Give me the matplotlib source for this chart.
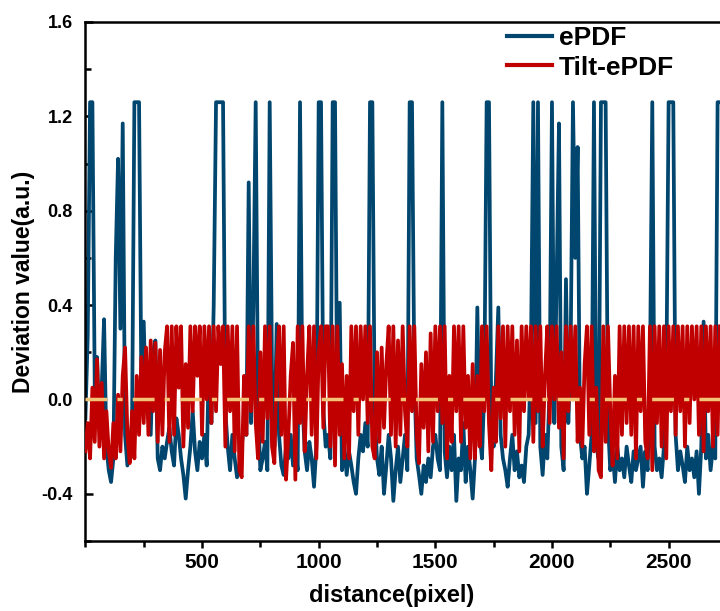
import numpy as np
import matplotlib
matplotlib.use("Agg")
import matplotlib.pyplot as plt
from matplotlib.ticker import MultipleLocator, FixedLocator, FormatStrFormatter

# sampling step of the distance axis (pixels)
step = 10

epdf = [
    # 0-340
    -0.08, 0.27, 1.26, 1.26, 0.05, 0.18, -0.12, 0.05, 0.34, -0.20,
    -0.30, -0.35, -0.25, 0.60, 1.02, 0.30, 1.17, -0.15, -0.28, -0.20,
    -0.10, 1.26, 1.26, 1.26, 0.05, 0.33, -0.05, 0.10, -0.15, 0.20,
    0.25, -0.25, -0.30, -0.20, -0.25,
    # 350-680
    -0.18, -0.12, -0.22, -0.28, -0.08, -0.15, -0.25, -0.32, -0.42, -0.30,
    -0.20, -0.05, -0.22, -0.30, -0.18, -0.25, -0.15, -0.28, 0.20, -0.10,
    0.40, 1.26, 1.26, 1.26, 1.26, -0.05, -0.20, -0.30, -0.15, -0.25,
    -0.33, -0.28, -0.20, -0.10,
    # 690-1030
    -0.15, 0.92, -0.10, 0.40, 1.26, -0.05, -0.30, -0.25, -0.18, -0.30,
    1.26, 0.10, -0.20, 0.32, -0.15, -0.28, -0.32, -0.20, -0.25, -0.15,
    -0.28, -0.20, -0.30, 1.26, 0.00, -0.22, -0.30, -0.18, -0.25, -0.37,
    -0.20, 1.26, 1.26, -0.05, -0.20,
    # 1040-1370
    -0.15, -0.25, 1.26, 1.26, -0.10, 0.41, -0.30, -0.20, -0.32, -0.22,
    -0.28, -0.35, -0.40, -0.25, -0.15, -0.22, -0.10, -0.20, 1.26, 1.26,
    -0.05, -0.25, -0.32, -0.20, -0.40, -0.28, -0.15, -0.25, -0.43, -0.30,
    -0.20, -0.35, -0.25, -0.15,
    # 1380-1710
    -0.30, 1.26, 1.26, 0.10, -0.25, -0.32, -0.40, -0.28, -0.35, -0.25,
    -0.33, -0.20, -0.15, -0.25, -0.30, 1.26, -0.22, -0.33, -0.20, -0.30,
    -0.15, -0.43, -0.25, -0.30, -0.10, -0.35, -0.20, -0.30, -0.42, -0.25,
    0.39, -0.15, -0.25, 0.05,
    # 1720-2050
    1.26, 1.26, -0.10, -0.20, 0.10, 0.39, -0.15, -0.25, -0.30, -0.37,
    -0.25, -0.15, -0.30, -0.22, -0.33, -0.28, -0.35, -0.20, -0.15, 0.20,
    1.26, -0.10, 1.26, -0.20, -0.32, -0.15, -0.25, 0.05, 1.26, -0.10,
    0.50, 1.17, -0.20, -0.30,
    # 2060-2400
    0.51, -0.10, 0.20, 1.26, 0.60, 1.07, -0.15, -0.25, -0.20, -0.40,
    -0.28, -0.15, 1.26, -0.20, -0.25, 1.26, 1.26, 1.26, -0.10, -0.30,
    -0.22, -0.35, -0.20, -0.30, -0.25, -0.33, -0.20, -0.28, -0.35, -0.22,
    -0.30, -0.25, -0.20, -0.37, -0.22,
    # 2410-2720
    -0.30, 0.10, 1.26, -0.20, -0.30, -0.25, -0.33, -0.20, 0.05, 1.26,
    1.26, 1.26, -0.15, -0.30, -0.22, -0.28, -0.35, -0.20, -0.30, -0.25,
    -0.33, -0.22, -0.40, -0.20, 0.33, -0.25, -0.15, -0.30, -0.20, -0.25,
    1.26, 1.26,
]

tilt_epdf = [
    # 0-340
    -0.22, -0.10, -0.25, 0.05, -0.18, 0.17, -0.20, 0.07, -0.25, -0.05,
    -0.22, -0.29, -0.10, -0.25, 0.02, -0.22, 0.10, 0.22, -0.15, -0.27,
    -0.05, -0.25, 0.10, -0.15, 0.18, -0.10, 0.22, -0.15, 0.25, -0.05,
    0.24, -0.18, 0.21, -0.15, 0.20,
    # 350-680
    0.31, -0.18, 0.31, -0.15, 0.31, 0.05, 0.31, -0.20, 0.15, -0.12,
    0.31, -0.05, 0.31, 0.10, 0.31, -0.15, 0.31, 0.00, 0.31, -0.10,
    0.31, -0.05, 0.31, 0.15, 0.31, -0.20, 0.31, -0.05, 0.31, -0.22,
    0.31, -0.30, -0.33, 0.10,
    # 690-1030
    -0.15, 0.31, -0.05, 0.31, -0.10, -0.25, 0.20, -0.18, 0.31, -0.08,
    0.31, -0.20, -0.27, 0.15, 0.31, -0.15, 0.31, -0.34, -0.15, 0.10,
    0.24, -0.34, 0.31, -0.10, 0.31, -0.22, 0.10, 0.31, -0.15, 0.31,
    -0.25, 0.20, 0.31, -0.12, 0.31,
    # 1040-1370
    0.31, -0.20, 0.31, -0.28, 0.31, -0.15, 0.15, -0.25, 0.10, -0.25,
    0.31, -0.05, 0.31, -0.15, 0.31, 0.00, 0.31, -0.10, 0.31, -0.20,
    -0.25, 0.20, -0.18, 0.22, -0.12, 0.15, 0.31, -0.15, 0.31, -0.20,
    0.25, -0.15, 0.31, -0.05,
    # 1380-1710
    -0.20, 0.31, -0.05, 0.31, -0.15, -0.27, 0.15, -0.12, 0.20, -0.22,
    0.28, -0.18, 0.31, -0.05, 0.31, -0.10, 0.31, -0.25, 0.10, -0.18,
    0.31, -0.05, 0.31, -0.18, 0.31, -0.12, 0.10, -0.25, 0.15, -0.25,
    0.10, -0.20, 0.31, -0.05,
    # 1720-2050
    0.31, -0.10, -0.30, 0.05, -0.18, 0.31, -0.08, 0.31, -0.20, 0.31,
    -0.05, 0.31, -0.15, 0.25, -0.22, 0.31, -0.05, 0.31, 0.00, 0.31,
    -0.18, 0.31, -0.05, 0.31, -0.20, 0.10, 0.31, -0.10, 0.31, 0.00,
    0.31, -0.12, 0.20, -0.25,
    # 2060-2400
    0.31, -0.05, 0.31, 0.00, 0.31, -0.18, 0.05, -0.20, 0.15, 0.31,
    -0.15, 0.31, -0.22, 0.05, -0.30, -0.33, 0.31, -0.18, 0.31, -0.05,
    -0.28, 0.10, -0.25, 0.31, -0.15, 0.31, -0.10, 0.31, -0.15, 0.31,
    -0.25, 0.31, -0.05, 0.31, -0.18,
    # 2410-2720
    -0.25, 0.31, -0.30, 0.31, -0.10, 0.31, -0.20, 0.31, -0.25, 0.31,
    -0.05, 0.31, -0.15, 0.31, -0.05, 0.31, -0.20, 0.31, -0.10, 0.31,
    0.00, 0.31, -0.15, 0.31, -0.22, 0.31, -0.05, 0.31, -0.20, 0.31,
    -0.15, 0.31,
]

x_ticks = [500, 1000, 1500, 2000, 2500]
y_ticks = [-0.4, 0.0, 0.4, 0.8, 1.2, 1.6]
series_labels = ["ePDF", "Tilt-ePDF"]

x_e = np.arange(len(epdf)) * step
x_t = np.arange(len(tilt_epdf)) * step

BLUE = "#00466e"
RED = "#c00000"
ORANGE = "#f2c477"

fam = ["Liberation Sans", "DejaVu Sans"]

fig = plt.figure(figsize=(7.2, 6.11), dpi=100)
ax = fig.add_axes([85.4 / 720, 70 / 611, 649 / 720, 519 / 611])

ax.plot(x_e, epdf, color=BLUE, lw=2.7, solid_joinstyle="round", zorder=2, label=series_labels[0])
ax.plot(x_t, tilt_epdf, color=RED, lw=2.7, solid_joinstyle="round", zorder=3, label=series_labels[1])
ax.axhline(0.0, color=ORANGE, lw=2.5, dashes=(6.3, 2.9, 1.5, 2.9), zorder=4)

ax.set_xlim(0, 2782)
ax.set_ylim(-0.6, 1.6)

ax.xaxis.set_major_locator(FixedLocator(x_ticks))
ax.xaxis.set_minor_locator(MultipleLocator(250))
ax.yaxis.set_major_locator(FixedLocator(y_ticks))
ax.yaxis.set_minor_locator(MultipleLocator(0.2))
ax.yaxis.set_major_formatter(FormatStrFormatter("%.1f"))

for s in ["left", "top", "bottom"]:
    ax.spines[s].set_linewidth(1.8)
ax.spines["right"].set_visible(False)

ax.tick_params(axis="y", which="major", direction="in", length=6, width=1.8, pad=9)
ax.tick_params(axis="y", which="minor", direction="in", length=4, width=1.8)
ax.tick_params(axis="x", which="major", direction="out", length=5, width=1.8, pad=4)
ax.tick_params(axis="x", which="minor", direction="out", length=4, width=1.8)

for lab in ax.get_yticklabels():
    lab.set_fontfamily(fam)
    lab.set_fontweight("bold")
    lab.set_fontsize(13)
for lab in ax.get_xticklabels():
    lab.set_fontfamily(fam)
    lab.set_fontweight("bold")
    lab.set_fontsize(15)

ax.set_xlabel("distance(pixel)", fontfamily=fam, fontweight="bold", fontsize=17)
ax.xaxis.set_label_coords(0.472, -0.083)
ax.set_ylabel("Deviation value(a.u.)", fontfamily=fam, fontweight="bold", fontsize=16.5, labelpad=4.5)

leg = ax.legend(loc="upper left", bbox_to_anchor=(0.63, 1.018), frameon=False,
                prop={"family": fam, "weight": "bold", "size": 19},
                handlelength=1.7, handletextpad=0.25, labelspacing=0.22, borderpad=0)
for h in leg.get_lines():
    h.set_linewidth(3.0)

fig.savefig("out.png", dpi=100)
